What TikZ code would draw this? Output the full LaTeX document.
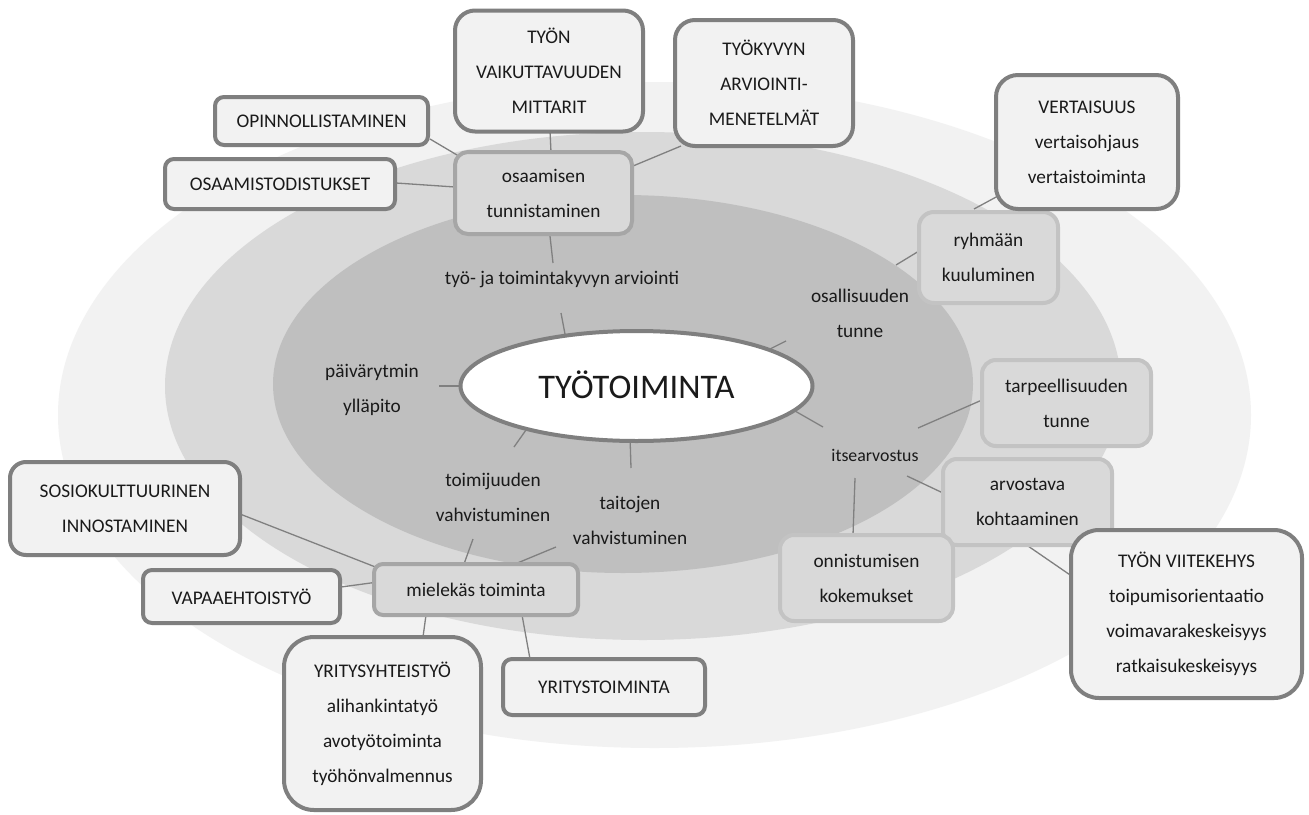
\documentclass[tikz,border=0pt]{standalone}
\usepackage{fontspec}
\setmainfont{Carlito}
\usetikzlibrary{shapes.geometric}
\definecolor{ringA}{HTML}{F2F2F2}
\definecolor{ringB}{HTML}{D9D9D9}
\definecolor{ringC}{HTML}{BFBFBF}
\definecolor{oborder}{HTML}{7F7F7F}
\definecolor{ofill}{HTML}{F2F2F2}
\definecolor{mfill}{HTML}{D9D9D9}
\definecolor{mborderA}{HTML}{A6A6A6}
\definecolor{mborderB}{HTML}{C3C3C3}
\definecolor{connc}{HTML}{808080}
\definecolor{txt}{HTML}{1A1A1A}
\newcommand\dgfont{\fontsize{19.3}{35}\selectfont}
\tikzset{
  obox/.style={draw=oborder, line width=4pt, fill=ofill, align=center, inner sep=0pt, font=\dgfont, text=txt},
  mboxA/.style={draw=mborderA, line width=4pt, fill=mfill, align=center, inner sep=0pt, font=\dgfont, text=txt},
  mboxB/.style={draw=mborderB, line width=4pt, fill=mfill, align=center, inner sep=0pt, font=\dgfont, text=txt},
  lbl/.style={align=center, inner sep=0pt, font=\dgfont, text=txt},
  conn/.style={draw=connc, line width=1.3pt}
}
\begin{document}
\begin{tikzpicture}[x=1pt,y=-1pt]
\useasboundingbox (0,0) rectangle (1309,814);
\fill[white] (0,0) rectangle (1309,814);
% rings
\fill[ringA] (654.5,415) ellipse [x radius=596.5pt, y radius=333pt];
\fill[ringB] (643,386) ellipse [x radius=478pt, y radius=254pt];
\fill[ringC] (623,384) ellipse [x radius=350pt, y radius=189pt];

% connector end points
\coordinate (c1a) at (430,139); \coordinate (c1b) at (457,155);
\coordinate (c2a) at (396,183); \coordinate (c2b) at (455,187);
\coordinate (c3a) at (550,131); \coordinate (c3b) at (551,152);
\coordinate (c4a) at (633,166); \coordinate (c4b) at (681,146);
\coordinate (c5a) at (550,236); \coordinate (c5b) at (553,263);
\coordinate (c6a) at (561,313); \coordinate (c6b) at (565,334);
\coordinate (c7a) at (770,349); \coordinate (c7b) at (786,341);
\coordinate (c8a) at (896,265); \coordinate (c8b) at (919,251);
\coordinate (c9a) at (974,209); \coordinate (c9b) at (998,196);
\coordinate (c10a) at (439,386); \coordinate (c10b) at (460,386);
\coordinate (c11a) at (795,411); \coordinate (c11b) at (823,427);
\coordinate (c12a) at (918,428); \coordinate (c12b) at (982,400);
\coordinate (c13a) at (907,476); \coordinate (c13b) at (943,493);
\coordinate (c14a) at (855,478); \coordinate (c14b) at (853,535);
\coordinate (c15a) at (1028,546); \coordinate (c15b) at (1076,579);
\coordinate (c16a) at (526,430); \coordinate (c16b) at (514,447);
\coordinate (c17a) at (630,436); \coordinate (c17b) at (631,468);
\coordinate (c18a) at (473,539); \coordinate (c18b) at (464,564);
\coordinate (c19a) at (556,547); \coordinate (c19b) at (515,564);
\coordinate (c20a) at (240,514); \coordinate (c20b) at (378,568);
\coordinate (c21a) at (341,587); \coordinate (c21b) at (378,582);
\coordinate (c22a) at (426,615); \coordinate (c22b) at (423,637);
\coordinate (c23a) at (522,615); \coordinate (c23b) at (530,659);
\foreach \i in {1,...,23} {\draw[conn] (c\i a) -- (c\i b);}

% labels in the inner ring
\node[lbl] (tyolbl) at (562,279) {työ- ja toimintakyvyn arviointi};
\node[lbl] (osall) at (860,313) {osallisuuden\\tunne};
\node[lbl] (paiva) at (372,390) {päivärytmin\\ylläpito};
\node[lbl] (itse) at (875,455) {\fontsize{17.8}{35}\selectfont itsearvostus};
\node[lbl] (toimij) at (493,497) {toimijuuden\\vahvistuminen};
\node[lbl] (taito) at (630,520) {taitojen\\vahvistuminen};

% middle boxes
\node[mboxA, rounded corners=13pt, minimum width=177pt, minimum height=82pt] (osaam) at (543.5,193) {osaamisen\\tunnistaminen};
\node[mboxB, rounded corners=15pt, minimum width=139pt, minimum height=91pt] (ryhma) at (988.5,257.5) {ryhmään\\kuuluminen};
\node[mboxB, rounded corners=14pt, minimum width=169pt, minimum height=86pt] (tarp) at (1066.5,403) {tarpeellisuuden\\tunne};
\node[mboxB, rounded corners=14pt, minimum width=169pt, minimum height=86pt] (arvo) at (1027.5,502) {arvostava\\kohtaaminen};
\node[mboxB, rounded corners=14pt, minimum width=173pt, minimum height=86pt] (onni) at (866.5,578) {onnistumisen\\kokemukset};
\node[mboxA, rounded corners=9pt, minimum width=204pt, minimum height=51pt] (miel) at (476,589.5) {mielekäs toiminta};

% outer boxes
\node[obox, rounded corners=9pt, minimum width=213pt, minimum height=48pt] (opin) at (321.5,121) {OPINNOLLISTAMINEN};
\node[obox, rounded corners=9pt, minimum width=230pt, minimum height=50pt] (osdist) at (280,184) {OSAAMISTODISTUKSET};
\node[obox, rounded corners=20pt, minimum width=188pt, minimum height=121pt] (vaik) at (549,71) {TYÖN\\VAIKUTTAVUUDEN\\MITTARIT};
\node[obox, rounded corners=20pt, minimum width=178pt, minimum height=126pt] (tyokyky) at (764,83) {TYÖKYVYN\\ARVIOINTI-\\MENETELMÄT};
\node[obox, rounded corners=22pt, minimum width=182pt, minimum height=134pt] (vert) at (1087,142) {VERTAISUUS\\vertaisohjaus\\vertaistoiminta};
\node[obox, rounded corners=16pt, minimum width=230pt, minimum height=93pt] (sosio) at (125,508.5) {SOSIOKULTTUURINEN\\INNOSTAMINEN};
\node[obox, rounded corners=9pt, minimum width=197pt, minimum height=53pt] (vapaa) at (241.5,596.5) {VAPAAEHTOISTYÖ};
\node[obox, rounded corners=30pt, minimum width=197pt, minimum height=173pt] (yhteis) at (382.5,723.5) {YRITYSYHTEISTYÖ\\alihankintatyö\\avotyötoiminta\\työhönvalmennus};
\node[obox, rounded corners=9pt, minimum width=202pt, minimum height=56pt] (yritys) at (604,687) {YRITYSTOIMINTA};
\node[obox, rounded corners=28pt, minimum width=231pt, minimum height=168pt] (viite) at (1186.5,614) {TYÖN VIITEKEHYS\\toipumisorientaatio\\voimavarakeskeisyys\\ratkaisukeskeisyys};

% centre
\node[ellipse, draw=oborder, line width=4pt, fill=white, minimum width=352pt, minimum height=110pt, inner sep=0pt, text=txt, font=\fontsize{34.5}{38}\selectfont] (centre) at (636.5,386) {\raisebox{2pt}{TYÖTOIMINTA}};
\end{tikzpicture}
\end{document}
